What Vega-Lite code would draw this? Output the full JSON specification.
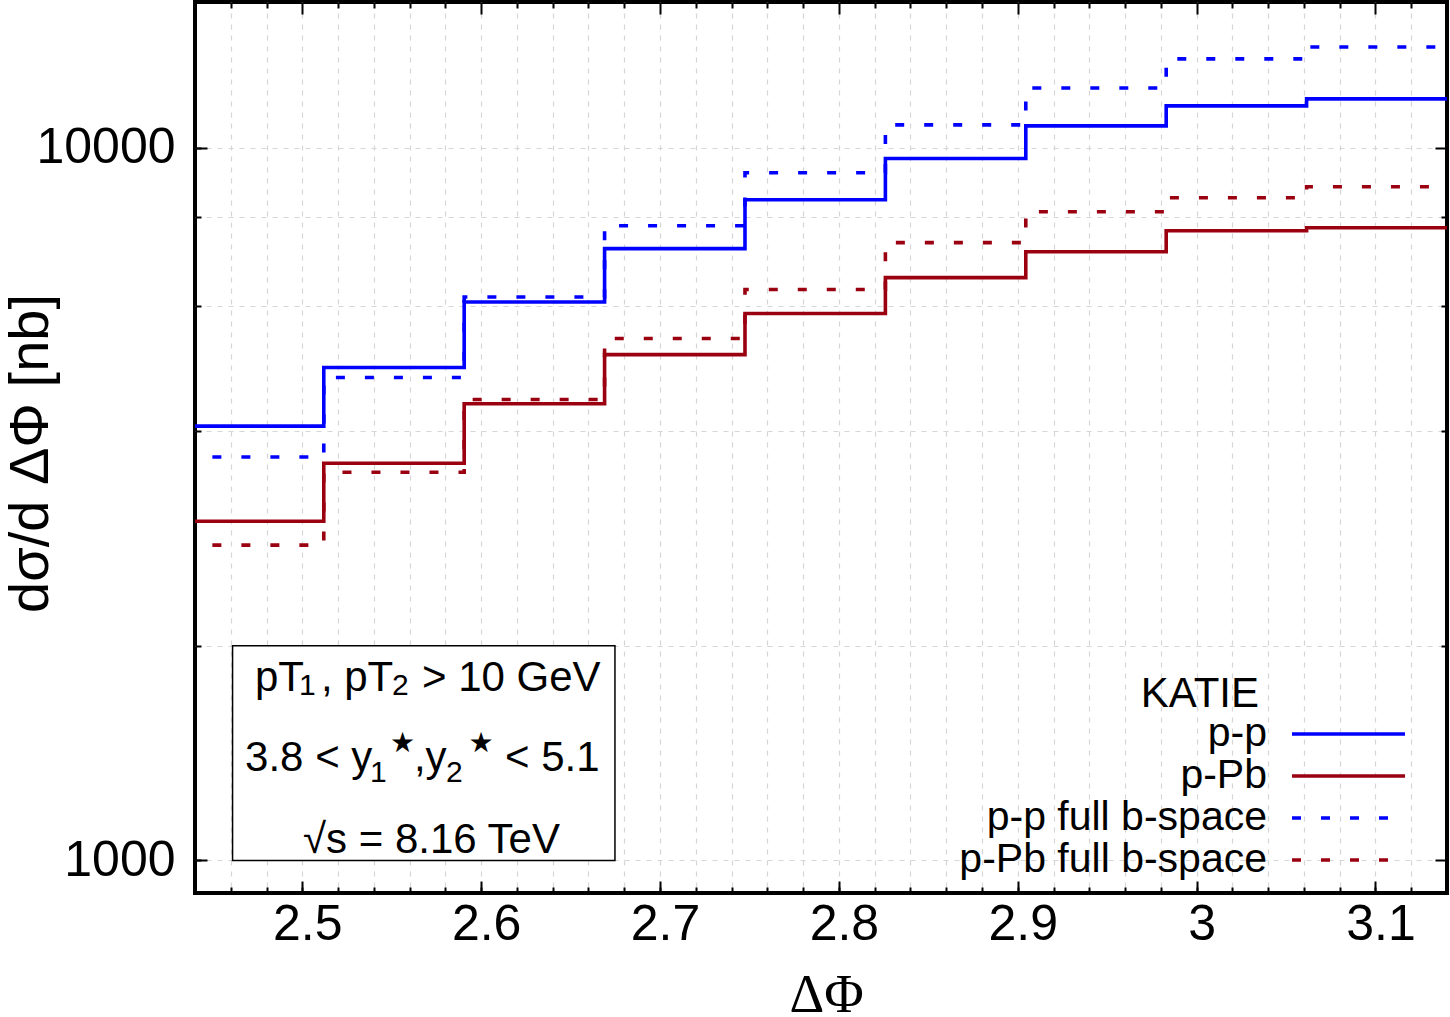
{
  "$schema": "https://vega.github.io/schema/vega-lite/v6.json",
  "width": 1252,
  "height": 891,
  "autosize": "none",
  "padding": {"left": 195, "top": 2, "right": 3, "bottom": 124},
  "background": "white",
  "config": {
    "view": {"stroke": "black", "strokeWidth": 4},
    "axis": {
      "domain": false,
      "labelFont": "Liberation Sans",
      "labelColor": "black",
      "tickColor": "black",
      "tickWidth": 2,
      "gridColor": "#d6d6d6",
      "gridDash": [5, 6],
      "gridWidth": 1.2,
      "titleColor": "black",
      "titleFontWeight": "normal"
    },
    "legend": {
      "orient": "none", "legendX": 946, "legendY": 672,
      "titleFont": "Liberation Sans", "titleFontSize": 42,
      "titleFontWeight": "normal", "titleColor": "black",
      "titleAlign": "right", "titleAnchor": "start", "titlePadding": -4,
      "labelFont": "Liberation Sans", "labelFontSize": 41, "labelColor": "black",
      "labelAlign": "right", "labelOffset": -67, "labelLimit": 600,
      "symbolType": "M-1,0H4.65", "symbolSize": 1600, "rowPadding": 0
    },
    "text": {"font": "Liberation Sans", "color": "black"}
  },
  "datasets": {
    "curves": [
      {"phi": 2.4335, "xs": 4066, "series": "p-p"},
      {"phi": 2.512, "xs": 4913, "series": "p-p"},
      {"phi": 2.5905, "xs": 6072, "series": "p-p"},
      {"phi": 2.669, "xs": 7214, "series": "p-p"},
      {"phi": 2.7475, "xs": 8446, "series": "p-p"},
      {"phi": 2.826, "xs": 9652, "series": "p-p"},
      {"phi": 2.9045, "xs": 10725, "series": "p-p"},
      {"phi": 2.983, "xs": 11438, "series": "p-p"},
      {"phi": 3.0615, "xs": 11700, "series": "p-p"},
      {"phi": 3.14, "xs": 11700, "series": "p-p"},
      {"phi": 2.4335, "xs": 2991, "series": "p-Pb"},
      {"phi": 2.512, "xs": 3606, "series": "p-Pb"},
      {"phi": 2.5905, "xs": 4371, "series": "p-Pb"},
      {"phi": 2.669, "xs": 5123, "series": "p-Pb"},
      {"phi": 2.7475, "xs": 5849, "series": "p-Pb"},
      {"phi": 2.826, "xs": 6569, "series": "p-Pb"},
      {"phi": 2.9045, "xs": 7143, "series": "p-Pb"},
      {"phi": 2.983, "xs": 7643, "series": "p-Pb"},
      {"phi": 3.0615, "xs": 7717, "series": "p-Pb"},
      {"phi": 3.14, "xs": 7717, "series": "p-Pb"},
      {"phi": 2.4335, "xs": 3680, "series": "p-p full b-space"},
      {"phi": 2.512, "xs": 4757, "series": "p-p full b-space"},
      {"phi": 2.5905, "xs": 6170, "series": "p-p full b-space"},
      {"phi": 2.669, "xs": 7768, "series": "p-p full b-space"},
      {"phi": 2.7475, "xs": 9217, "series": "p-p full b-space"},
      {"phi": 2.826, "xs": 10760, "series": "p-p full b-space"},
      {"phi": 2.9045, "xs": 12122, "series": "p-p full b-space"},
      {"phi": 2.983, "xs": 13313, "series": "p-p full b-space"},
      {"phi": 3.0615, "xs": 13837, "series": "p-p full b-space"},
      {"phi": 3.14, "xs": 13837, "series": "p-p full b-space"},
      {"phi": 2.4335, "xs": 2768, "series": "p-Pb full b-space"},
      {"phi": 2.512, "xs": 3503, "series": "p-Pb full b-space"},
      {"phi": 2.5905, "xs": 4432, "series": "p-Pb full b-space"},
      {"phi": 2.669, "xs": 5395, "series": "p-Pb full b-space"},
      {"phi": 2.7475, "xs": 6320, "series": "p-Pb full b-space"},
      {"phi": 2.826, "xs": 7354, "series": "p-Pb full b-space"},
      {"phi": 2.9045, "xs": 8128, "series": "p-Pb full b-space"},
      {"phi": 2.983, "xs": 8503, "series": "p-Pb full b-space"},
      {"phi": 3.0615, "xs": 8810, "series": "p-Pb full b-space"},
      {"phi": 3.14, "xs": 8810, "series": "p-Pb full b-space"}
    ],
    "box": [{"xa": 2.461, "xb": 2.6748, "ya": 1000, "yb": 2000}],
    "notes": [
      {"t": "pT", "x": 2.4735, "y": 1729},
      {"t": ", pT", "x": 2.5104, "y": 1729},
      {"t": "> 10 GeV", "x": 2.5669, "y": 1729},
      {"t": "3.8 < y", "x": 2.468, "y": 1335},
      {"t": ",y", "x": 2.5624, "y": 1335},
      {"t": "< 5.1", "x": 2.6133, "y": 1335},
      {"t": "√s = 8.16 TeV", "x": 2.5004, "y": 1024}
    ],
    "subs": [
      {"t": "1", "x": 2.4981, "y": 1706},
      {"t": "2", "x": 2.5501, "y": 1706},
      {"t": "1", "x": 2.5378, "y": 1288},
      {"t": "2", "x": 2.5803, "y": 1288}
    ],
    "stars": [
      {"t": "★", "x": 2.556, "y": 1454},
      {"t": "★", "x": 2.5999, "y": 1454}
    ]
  },
  "resolve": {"axis": {"x": "independent", "y": "independent"}},
  "layer": [
    {
      "data": {"name": "box"},
      "mark": {"type": "rect", "fill": "white", "stroke": "black", "strokeWidth": 1.5},
      "encoding": {
        "x": {
          "field": "xa", "type": "quantitative",
          "scale": {"domain": [2.44, 3.14], "nice": false, "zero": false},
          "axis": {
            "orient": "bottom", "title": null, "labels": false, "grid": true,
            "tickSize": -6, "zindex": 0,
            "values": [2.46, 2.48, 2.5, 2.52, 2.54, 2.56, 2.58, 2.6, 2.62, 2.64, 2.66, 2.68, 2.7, 2.72, 2.74, 2.76, 2.78, 2.8, 2.82, 2.84, 2.86, 2.88, 2.9, 2.92, 2.94, 2.96, 2.98, 3, 3.02, 3.04, 3.06, 3.08, 3.1, 3.12]
          }
        },
        "x2": {"field": "xb"},
        "y": {
          "field": "ya", "type": "quantitative",
          "scale": {"type": "log", "domain": [900, 16000], "nice": false},
          "axis": {
            "orient": "left", "title": null, "labels": false, "grid": true,
            "tickSize": -6, "zindex": 0,
            "values": [1000, 2000, 4000, 6000, 8000, 10000]
          }
        },
        "y2": {"field": "yb"}
      }
    },
    {
      "data": {"name": "curves"},
      "mark": {"type": "line", "interpolate": "step-after", "clip": true, "strokeCap": "butt"},
      "encoding": {
        "x": {
          "field": "phi", "type": "quantitative",
          "scale": {"domain": [2.44, 3.14], "nice": false, "zero": false},
          "axis": {
            "orient": "bottom", "title": "ΔΦ", "grid": false,
            "values": [2.5, 2.6, 2.7, 2.8, 2.9, 3, 3.1], "format": "~g",
            "tickSize": -12, "labelPadding": 18, "labelOffset": 5, "labelFontSize": 50,
            "titleFont": "Liberation Serif", "titleFontSize": 54,
            "titleX": 631, "titleY": 118, "titleBaseline": "alphabetic", "zindex": 1
          }
        },
        "y": {
          "field": "xs", "type": "quantitative",
          "scale": {"type": "log", "domain": [900, 16000], "nice": false},
          "axis": {
            "orient": "left", "title": "dσ/d ΔΦ [nb]", "grid": false,
            "values": [1000, 10000], "format": "d",
            "tickSize": -12, "labelPadding": 32, "labelFontSize": 50,
            "titleFont": "Liberation Sans", "titleFontSize": 56,
            "titleX": -148, "titleY": 451, "titleBaseline": "alphabetic", "zindex": 1
          }
        },
        "color": {
          "field": "series", "type": "nominal", "title": "KATIE\u2800",
          "scale": {
            "domain": ["p-p", "p-Pb", "p-p full b-space", "p-Pb full b-space"],
            "range": ["#0000ff", "#9b0010", "#0000ff", "#9b0010"]
          }
        },
        "strokeDash": {
          "field": "series", "type": "nominal", "title": "KATIE\u2800",
          "scale": {
            "domain": ["p-p", "p-Pb", "p-p full b-space", "p-Pb full b-space"],
            "range": [[1, 0], [1, 0], [9, 20], [9, 20]]
          }
        },
        "strokeWidth": {
          "field": "series", "type": "nominal", "title": "KATIE\u2800",
          "scale": {
            "domain": ["p-p", "p-Pb", "p-p full b-space", "p-Pb full b-space"],
            "range": [3.6, 3.6, 5, 5]
          }
        }
      }
    },
    {
      "data": {"name": "notes"},
      "mark": {"type": "text", "fontSize": 42, "align": "left", "baseline": "alphabetic"},
      "encoding": {
        "x": {
          "field": "x", "type": "quantitative",
          "scale": {"domain": [2.44, 3.14], "nice": false, "zero": false},
          "axis": {
            "orient": "top", "title": null, "labels": false, "grid": false,
            "values": [2.5, 2.6, 2.7, 2.8, 2.9, 3, 3.1], "tickSize": -12, "zindex": 1
          }
        },
        "y": {
          "field": "y", "type": "quantitative",
          "scale": {"type": "log", "domain": [900, 16000], "nice": false},
          "axis": {
            "orient": "right", "title": null, "labels": false, "grid": false,
            "values": [1000, 10000], "tickSize": -12, "zindex": 1
          }
        },
        "text": {"field": "t"}
      }
    },
    {
      "data": {"name": "subs"},
      "mark": {"type": "text", "fontSize": 30, "align": "left", "baseline": "alphabetic"},
      "encoding": {
        "x": {
          "field": "x", "type": "quantitative",
          "scale": {"domain": [2.44, 3.14], "nice": false, "zero": false},
          "axis": null
        },
        "y": {
          "field": "y", "type": "quantitative",
          "scale": {"type": "log", "domain": [900, 16000], "nice": false},
          "axis": null
        },
        "text": {"field": "t"}
      }
    },
    {
      "data": {"name": "stars"},
      "mark": {"type": "text", "fontSize": 28, "align": "center", "baseline": "middle", "font": "DejaVu Sans"},
      "encoding": {
        "x": {
          "field": "x", "type": "quantitative",
          "scale": {"domain": [2.44, 3.14], "nice": false, "zero": false},
          "axis": {
            "orient": "top", "title": null, "labels": false, "grid": false, "tickSize": -6, "zindex": 1,
            "values": [2.46, 2.48, 2.52, 2.54, 2.56, 2.58, 2.62, 2.64, 2.66, 2.68, 2.72, 2.74, 2.76, 2.78, 2.82, 2.84, 2.86, 2.88, 2.92, 2.94, 2.96, 2.98, 3.02, 3.04, 3.06, 3.08, 3.12]
          }
        },
        "y": {
          "field": "y", "type": "quantitative",
          "scale": {"type": "log", "domain": [900, 16000], "nice": false},
          "axis": {
            "orient": "right", "title": null, "labels": false, "grid": false,
            "values": [2000, 4000, 6000, 8000], "tickSize": -6, "zindex": 1
          }
        },
        "text": {"field": "t"}
      }
    }
  ]
}
